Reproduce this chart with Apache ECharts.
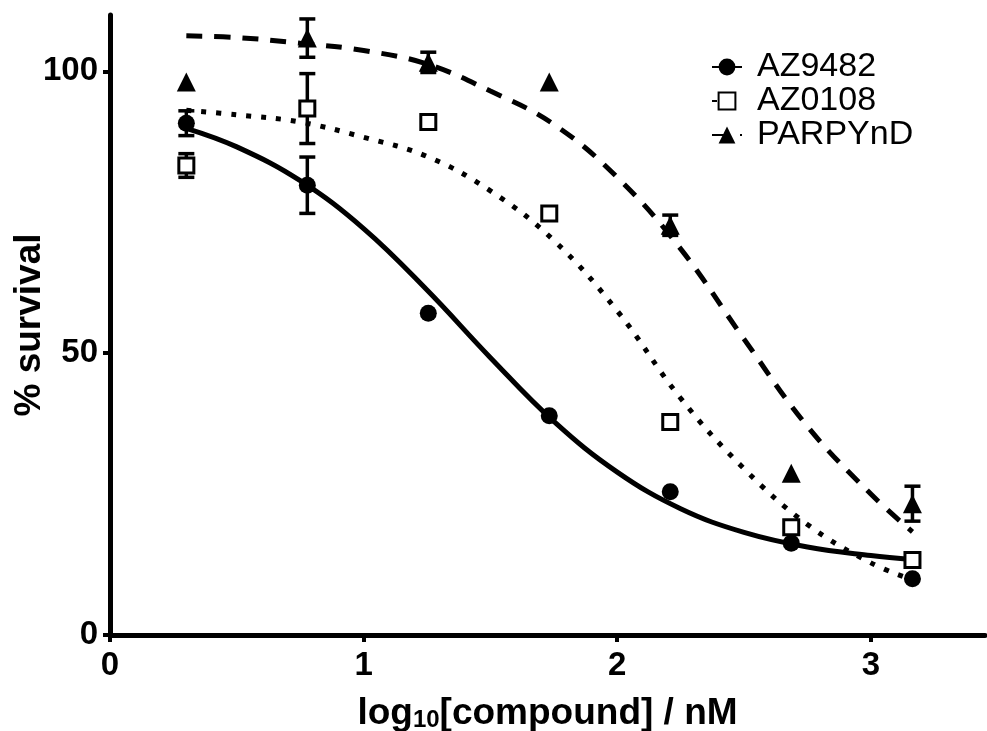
<!DOCTYPE html>
<html>
<head>
<meta charset="utf-8">
<script src="https://cdn.jsdelivr.net/npm/echarts@6/dist/echarts.min.js"></script>
<style>
html,body{margin:0;padding:0;background:#fff;}
#chart{width:987px;height:731px;}
</style>
</head>
<body>
<div id="chart"></div>
<script>
// ---- data ----
const seriesNames = ['AZ9482', 'AZ0108', 'PARPYnD'];
const xVals = [0.301, 0.778, 1.255, 1.732, 2.209, 2.686, 3.164];
const az9482Mean = [90.8, 79.8, 57.1, 38.9, 25.4, 16.3, 10.0];
const az9482Err  = [2.2, 5.0, 0, 0, 0, 0, 0];
const az0108Mean = [83.3, 93.4, 91.0, 74.8, 37.8, 19.1, 13.3];
const az0108Err  = [2.1, 6.2, 0, 0, 0, 0, 0];
const parpyMean  = [98.1, 105.9, 101.6, 98.1, 72.7, 28.7, 23.3];
const parpyErr   = [0, 3.4, 1.8, 0, 1.8, 0, 3.1];

const fitX      = [0.301, 0.5, 0.75, 1.0, 1.25, 1.5, 1.75, 2.0, 2.25, 2.5, 2.75, 3.0, 3.164];
const az9482Fit = [89.9, 86.6, 80.6, 72.1, 61.2, 49.2, 37.9, 28.9, 22.4, 18.2, 15.6, 14.1, 13.4];
const az0108Fit = [93.1, 92.3, 91.0, 88.3, 84.9, 78.8, 70.0, 57.5, 42.0, 29.5, 19.6, 12.8, 9.8];
const parpyFit  = [106.3, 106.0, 105.0, 103.7, 101.3, 96.5, 90.6, 81.2, 68.5, 52.5, 37.0, 25.0, 18.3];

const xTicks = [0, 1, 2, 3];
const yTicks = [0, 50, 100];

// ---- build ----
const FONT = 'Liberation Sans, Arial, sans-serif';
function pairs(xs, ys) { return xs.map((x, i) => [x, ys[i]]); }
function errData(xs, m, e) {
  const out = [];
  xs.forEach((x, i) => { if (e[i] > 0) out.push([x, m[i] - e[i], m[i] + e[i]]); });
  return out;
}
function errSeries(name, data) {
  return {
    name: name, type: 'custom', z: 3, silent: true,
    data: data,
    renderItem: function (params, api) {
      const x = api.value(0);
      const lo = api.coord([x, api.value(1)]);
      const hi = api.coord([x, api.value(2)]);
      const w = 8;
      const st = { stroke: '#000', lineWidth: 3.5 };
      return {
        type: 'group',
        children: [
          { type: 'line', shape: { x1: lo[0], y1: lo[1], x2: hi[0], y2: hi[1] }, style: st },
          { type: 'line', shape: { x1: lo[0] - w, y1: lo[1], x2: lo[0] + w, y2: lo[1] }, style: st },
          { type: 'line', shape: { x1: hi[0] - w, y1: hi[1], x2: hi[0] + w, y2: hi[1] }, style: st }
        ]
      };
    }
  };
}

const styles = [
  { symbol: 'circle', size: 17, item: { color: '#000', opacity: 1 }, line: { color: '#000', width: 5, type: 'solid' } },
  { symbol: 'rect', size: 15, item: { color: '#fff', borderColor: '#000', borderWidth: 3, opacity: 1 }, line: { color: '#000', width: 5, type: [5, 10] } },
  { symbol: 'triangle', size: 19, item: { color: '#000', opacity: 1 }, line: { color: '#000', width: 5, type: [16, 12] } }
];
const means = [az9482Mean, az0108Mean, parpyMean];
const errs = [az9482Err, az0108Err, parpyErr];
const fits = [az9482Fit, az0108Fit, parpyFit];

const series = [];
seriesNames.forEach((name, k) => {
  const s = styles[k];
  series.push({
    name: name, type: 'line', z: 2, smooth: 0.4, showSymbol: false,
    symbol: s.symbol, symbolSize: s.size,
    itemStyle: s.item,
    lineStyle: { color: s.line.color, width: s.line.width, type: s.line.type, cap: 'butt' },
    data: pairs(fitX, fits[k])
  });
});
seriesNames.forEach((name, k) => {
  series.push(errSeries(name, errData(xVals, means[k], errs[k])));
});
seriesNames.forEach((name, k) => {
  const s = styles[k];
  series.push({
    name: name, type: 'scatter', z: 4,
    symbol: s.symbol, symbolSize: s.size,
    itemStyle: s.item,
    data: pairs(xVals, means[k])
  });
});

const chart = echarts.init(document.getElementById('chart'), null, { renderer: 'canvas' });
chart.setOption({
  animation: false,
  backgroundColor: '#fff',
  grid: { left: 110, right: 2, top: 15, bottom: 96, containLabel: false, outerBoundsMode: 'none' },
  legend: {
    data: seriesNames,
    orient: 'vertical',
    left: 706, top: 45,
    itemWidth: 30, itemHeight: 21, itemGap: 0,
    textStyle: { fontFamily: FONT, fontSize: 34, lineHeight: 34, color: '#000', padding: [0, 0, 0, 10] }
  },
  xAxis: {
    type: 'value', min: 0, max: 3.45,
    name: '{n|log}{s|10}{n|[compound] / nM}',
    nameLocation: 'middle', nameGap: 57, nameMoveOverlap: false,
    nameTextStyle: {
      rich: {
        n: { fontFamily: FONT, fontSize: 37, fontWeight: 'bold', color: '#000', lineHeight: 40, verticalAlign: 'bottom' },
        s: { fontFamily: FONT, fontSize: 24, fontWeight: 'bold', color: '#000', lineHeight: 14, verticalAlign: 'bottom' }
      }
    },
    splitLine: { show: false },
    axisLine: { show: true, onZero: false, lineStyle: { color: '#000', width: 5 } },
    axisTick: { show: true, inside: false, length: 7, customValues: xTicks, lineStyle: { color: '#000', width: 4 } },
    axisLabel: { customValues: xTicks, margin: 14, fontFamily: FONT, fontSize: 33, fontWeight: 'bold', color: '#000' }
  },
  yAxis: {
    type: 'value', min: 0, max: 110,
    name: '% survival',
    nameLocation: 'middle', nameGap: 62, nameRotate: 90, nameMoveOverlap: false,
    nameTextStyle: { fontFamily: FONT, fontSize: 37, fontWeight: 'bold', color: '#000' },
    splitLine: { show: false },
    axisLine: { show: true, onZero: false, lineStyle: { color: '#000', width: 5 } },
    axisTick: { show: true, inside: false, length: 7, customValues: yTicks, lineStyle: { color: '#000', width: 4 } },
    axisLabel: { customValues: yTicks, margin: 12, fontFamily: FONT, fontSize: 33, fontWeight: 'bold', color: '#000' }
  },
  series: series
});
</script>
</body>
</html>
